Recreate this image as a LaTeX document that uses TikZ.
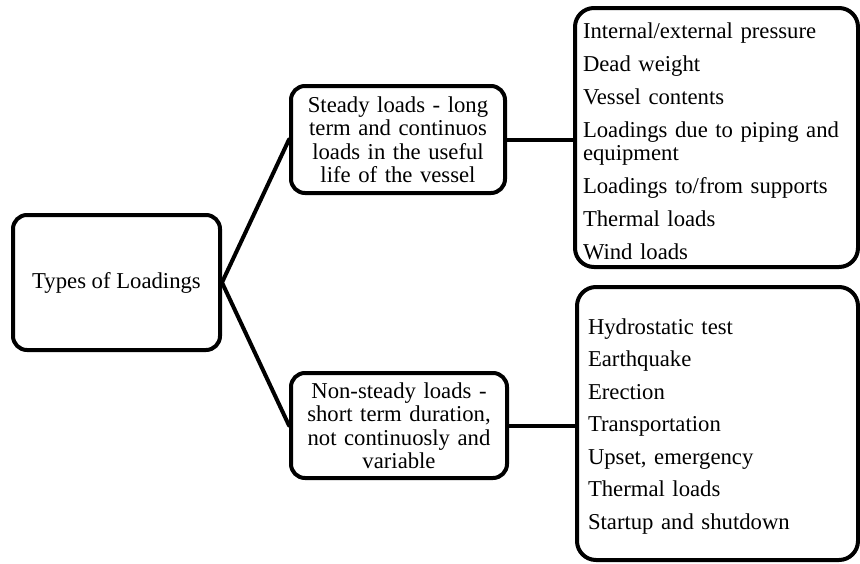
\documentclass[tikz,border=0pt]{standalone}
\usepackage{fontspec}
\setmainfont{Liberation Serif}
\begin{document}
\begin{tikzpicture}[x=1pt,y=-1pt,
  box/.style={draw=black, line width=4pt, rounded corners=14pt, align=center,
    font=\fontsize{22.7}{23.5}\selectfont, inner sep=4pt},
  listbox/.style={draw=black, line width=4pt, rounded corners=19pt, align=left,
    font=\fontsize{22.7}{23}\selectfont, inner ysep=0pt},
  link/.style={line width=4pt, line cap=round}]
\useasboundingbox (0,0) rectangle (860,563);
\node[box, minimum width=207pt, minimum height=135pt] (types) at (116.5,282.5) {Types of Loadings};
\node[box, minimum width=214pt, minimum height=107pt, text width=205pt] (steady) at (398,139.5)
  {Steady loads - long\\term and continuos\\loads in the useful\\life of the vessel};
\node[box, minimum width=216pt, minimum height=105pt, text width=207pt] (nonsteady) at (399,425.5)
  {Non-steady loads -\\short term duration,\\not continuosly and\\variable};
\node[listbox, minimum width=283pt, minimum height=259pt, text width=267pt, inner xsep=8pt] (steadylist) at (716.5,137.5)
  {\rule{0pt}{23pt}Internal/external pressure\\[10pt]Dead weight\\[10pt]Vessel contents\\[10pt]Loadings due to piping and\\equipment\\[10pt]Loadings to/from supports\\[10pt]Thermal loads\\[10pt]Wind loads};
\node[listbox, minimum width=281pt, minimum height=273pt, text width=259pt, inner xsep=11pt] (nonsteadylist) at (717.5,423.5)
  {\rule{0pt}{21.5pt}Hydrostatic test\\[9.5pt]Earthquake\\[9.5pt]Erection\\[9.5pt]Transportation\\[9.5pt]Upset, emergency\\[9.5pt]Thermal loads\\[9.5pt]Startup and shutdown};
\draw[link] (types.east) -- (steady.west);
\draw[link] (types.east) -- (nonsteady.west);
\draw[link] (steady.east) -- (steady.east -| steadylist.west);
\draw[link] (nonsteady.east) -- (nonsteady.east -| nonsteadylist.west);
\end{tikzpicture}
\end{document}
